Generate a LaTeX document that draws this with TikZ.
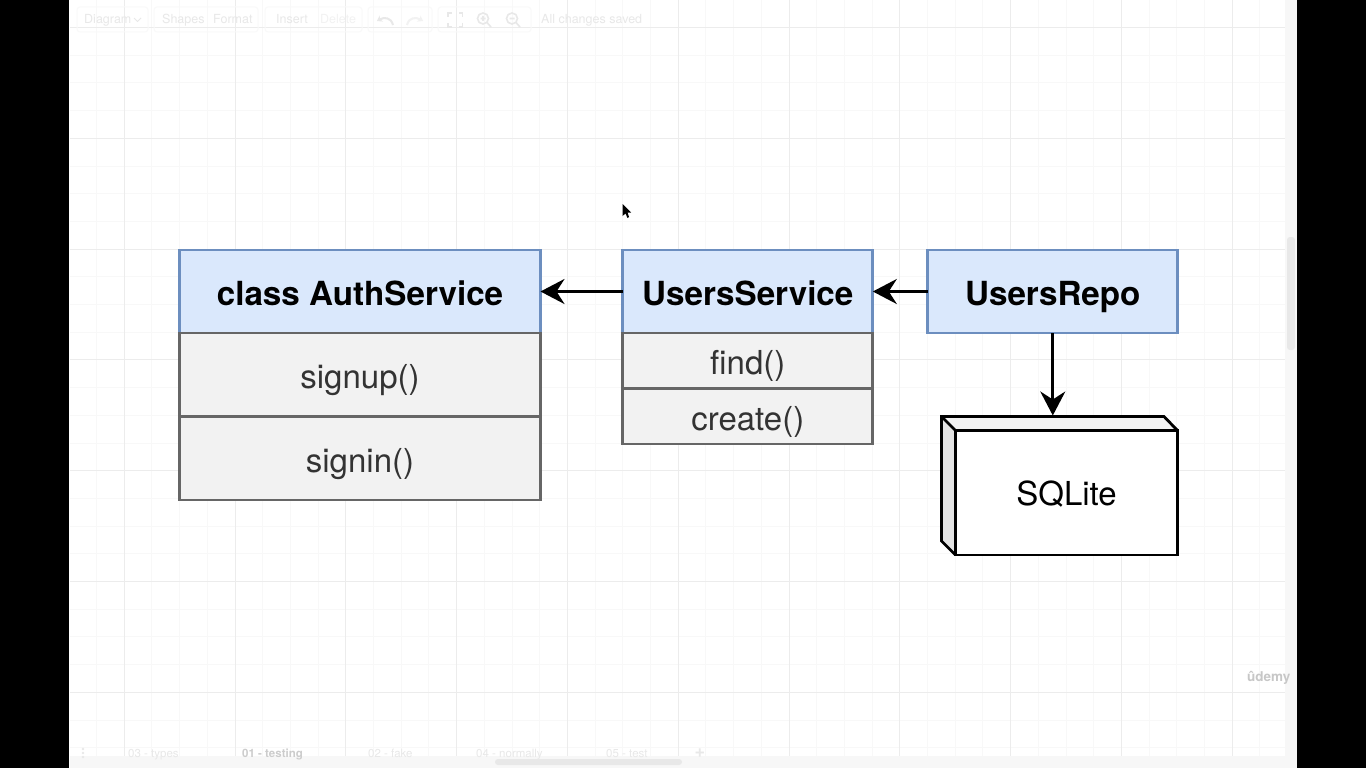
\documentclass[tikz,border=0pt]{standalone}
\usepackage{fontspec}
\setmainfont{TeX Gyre Heros}
\usetikzlibrary{arrows.meta}
\definecolor{gridminor}{HTML}{F8F8F8}
\definecolor{gridmajor}{HTML}{ECECEC}
\definecolor{bluefill}{HTML}{DAE8FC}
\definecolor{blueline}{HTML}{6C8EBF}
\definecolor{grayfill}{HTML}{F2F2F2}
\definecolor{grayline}{HTML}{666666}
\definecolor{graytext}{HTML}{333333}
\definecolor{ghost}{HTML}{E8E8E8}
\definecolor{ghostbox}{HTML}{F9F9F9}
\tikzset{
  x=1pt,y=-1pt,
  headbox/.style={draw=blueline,fill=bluefill,line width=2.8pt,text=black,font=\fontsize{33.2}{36}\selectfont\bfseries,inner sep=0pt,outer sep=0pt,anchor=north west,text height=27pt,text depth=0pt},
  bodybox/.style={draw=grayline,fill=grayfill,line width=2.8pt,text=graytext,font=\fontsize{33}{36}\selectfont,inner sep=0pt,outer sep=0pt,anchor=north west,text height=28pt,text depth=0pt},
  conn/.style={draw=black,line width=2.8pt,-{Stealth[length=24pt,width=25pt,inset=8pt]}},
  ghosttext/.style={text=ghost,font=\fontsize{12.5}{14}\selectfont,anchor=base west,inner sep=0pt},
  tabtext/.style={ghosttext,font=\fontsize{11.5}{13}\selectfont},
  ghostframe/.style={draw=ghostbox,line width=1pt,rounded corners=3pt},
  ghosticon/.style={draw=ghost,line width=1.6pt},
  cube/.style={draw=black,line width=2.8pt,line join=miter}
}
\begin{document}
\begin{tikzpicture}
\useasboundingbox (0,0) rectangle (1366,768);
\fill[white] (0,0) rectangle (1366,768);
% grid
\foreach \i in {-1,...,44}{\draw[gridminor,line width=1pt] ({96.5+27.7*\i},0) -- ({96.5+27.7*\i},768);}
\foreach \i in {0,...,28}{\draw[gridminor,line width=1pt] (70,{27.5+27.7*\i}) -- (1297,{27.5+27.7*\i});}
\foreach \i in {0,...,10}{\draw[gridmajor,line width=1pt] ({124.2+110.8*\i},0) -- ({124.2+110.8*\i},756);}
\foreach \i in {0,...,6}{\draw[gridmajor,line width=1pt] (70,{27.5+110.8*\i}) -- (1285,{27.5+110.8*\i});}
% window edges
\fill[black] (0,0) rectangle (69,768);
\fill[black] (1297,0) rectangle (1366,768);
\fill[white!97!black] (1285,0) rectangle (1297,768);
\fill[white!97!black] (70,756) rectangle (1297,768);
% scrollbars
\fill[ghost,rounded corners=3pt] (1287,237) rectangle (1295,350);
\fill[ghost,rounded corners=3pt] (495,759) rectangle (682,765);
% toolbar frames
\draw[ghostframe] (77,7) rectangle (148,32);
\draw[ghostframe] (154,7) rectangle (258,32);
\draw[ghostframe] (265,7) rectangle (362,32);
\draw[ghostframe] (368,7) rectangle (432,32);
\draw[ghostframe] (438,7) rectangle (531,32);
% toolbar ghost text
\node[ghosttext] (tbdiagram) at (84,24) {Diagram};
\draw[ghosticon,line width=1pt] (134,18) -- (137.5,21.5) -- (141,18);
\node[ghosttext] (tbshapes) at (162,24) {Shapes};
\node[ghosttext] (tbformat) at (213,24) {Format};
\node[ghosttext] (tbinsert) at (276,24) {Insert};
\node[ghosttext,text=white!95!black] (tbdelete) at (320,24) {Delete};
\node[ghosttext] (tbsaved) at (541,24) {All changes saved};
% toolbar icons
\draw[ghosticon,line width=2pt,-{Stealth[length=5pt,width=7pt]}] (393,25) .. controls (391,17) and (384,17) .. (377,21);
\draw[ghosticon,draw=white!95!black,line width=2pt,-{Stealth[length=5pt,width=7pt]}] (407,25) .. controls (409,17) and (416,17) .. (423,21);
\draw[ghosticon] (448,17) -- (448,13) -- (452,13) (459,13) -- (462.5,13) -- (462.5,17) (462.5,23) -- (462.5,27) -- (459,27) (452,27) -- (448,27) -- (448,23);
\draw[ghosticon] (483,18.5) circle (5.5) (487,22.5) -- (491,27) (480.5,18.5) -- (485.5,18.5) (483,16) -- (483,21);
\draw[ghosticon] (512,18.5) circle (5.5) (516,22.5) -- (520,27) (509.5,18.5) -- (514.5,18.5);
% tabs
\fill[ghost] (83,749) circle (1.4) (83,753) circle (1.4) (83,757) circle (1.4);
\node[tabtext] (tabtypes) at (128,757) {03 - types};
\node[tabtext,font=\fontsize{11.5}{13}\selectfont\bfseries,text=black!20] (tabtesting) at (242,757) {01 - testing};
\node[tabtext] (tabfake) at (368,757) {02 - fake};
\node[tabtext] (tabnormally) at (476,757) {04 - normally};
\node[tabtext] (tabtest) at (606,757) {05 - test};
\node[ghosttext,font=\fontsize{18}{18}\selectfont\bfseries] (tabplus) at (694.5,757) {+};
\node[ghosttext,font=\fontsize{13.5}{14}\selectfont\bfseries,text=black!22] (wm) at (1247,681) {ûdemy};
% cursor
\fill[black] (622.5,204) -- (622.5,216) -- (625.5,213.5) -- (627.5,218) -- (629,217) -- (627.5,212.5) -- (631,212.5) -- cycle;
% AuthService
\node[headbox,minimum width=361pt,minimum height=83pt] (auth) at (179.5,250) {class AuthService};
\node[bodybox,minimum width=361pt,minimum height=83pt] (signup) at (179.5,333) {signup()};
\node[bodybox,minimum width=361pt,minimum height=83.5pt] (signin) at (179.5,416.5) {signin()};
% UsersService
\node[headbox,minimum width=250pt,minimum height=83pt] (svc) at (622.8,250) {UsersService};
\node[bodybox,minimum width=250pt,minimum height=55.5pt] (find) at (622.8,333) {find()};
\node[bodybox,minimum width=250pt,minimum height=55.5pt] (create) at (622.8,388.5) {create()};
% UsersRepo
\node[headbox,minimum width=250pt,minimum height=83pt] (repo) at (927.8,250) {UsersRepo};
% SQLite
\fill[grayfill] (941.5,416.5) -- (1164,416.5) -- (1177.5,430.5) -- (955.5,430.5) -- cycle;
\fill[black!11] (941.5,416.5) -- (955.5,430.5) -- (955.5,555) -- (941.5,541) -- cycle;
\node[cube,fill=white,minimum width=222pt,minimum height=124.5pt,inner sep=0pt,outer sep=0pt,anchor=north west,font=\fontsize{33}{36}\selectfont,text height=25pt,text depth=0pt] (db) at (955.5,430.5) {SQLite};
\draw[cube] (db.south west) -- (941.5,541) -- (941.5,416.5) -- (1164,416.5) -- (db.north east);
\draw[cube] (db.north west) -- (942.5,417.5);
\coordinate (dbtop) at (1052.8,415.5);
% connectors
\draw[conn] (svc.west) -- (auth.east);
\draw[conn] (repo.west) -- (svc.east);
\draw[conn] (repo.south) -- (dbtop);
\end{tikzpicture}
\end{document}
